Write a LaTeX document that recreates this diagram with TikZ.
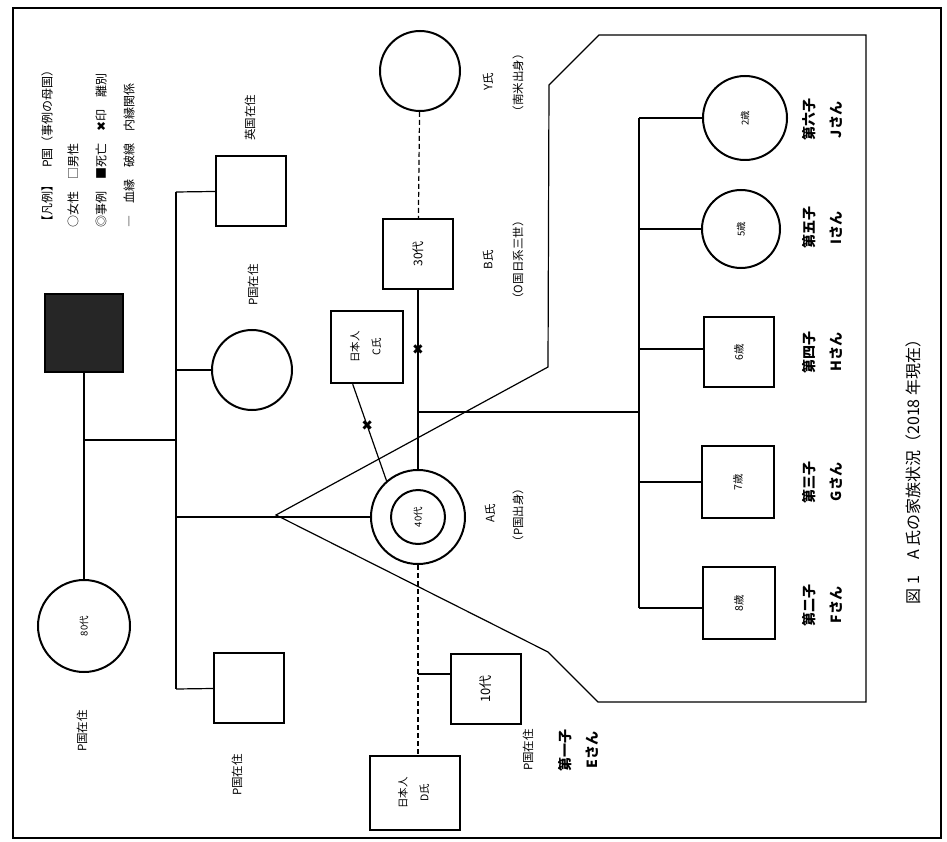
\documentclass[tikz,border=0pt]{standalone}
\usepackage{fontspec}
\setmainfont{Noto Sans CJK JP}
\newfontfamily\symfont{DejaVu Sans}
\newcommand{\vtxt}[1]{\rotatebox{90}{#1}}
\newcommand{\twoline}[2]{\rotatebox{90}{\begin{tabular}{@{}c@{}}#1\\[9pt]#2\end{tabular}}}

\begin{document}
\begin{tikzpicture}[x=1pt,y=-1pt,
  male/.style={draw, line width=2.4pt, minimum size=70pt, inner sep=0pt, font=\fontsize{11}{13}\selectfont},
  female/.style={circle, draw, line width=2pt, minimum size=80pt, inner sep=0pt, font=\fontsize{9.5}{11}\selectfont},
  dead/.style={male, fill=black!85},
  tie/.style={line width=1.2pt},
  note/.style={rotate=90, inner sep=0pt, font=\fontsize{11.5}{13}\selectfont},
  child/.style={rotate=90, align=center, inner sep=0pt, font=\bfseries\fontsize{14}{27}\selectfont},
  cut/.style={font=\symfont\fontsize{14}{14}\selectfont, inner sep=0pt}]
\useasboundingbox (0,0) rectangle (947,842);
\draw[line width=2pt] (13,8) rectangle (941,838);

% legend
\node[note, anchor=west, font=\fontsize{12}{14}\selectfont] (lg1) at (47,228) {【凡例】　P国（事例の母国）};
\node[note, anchor=west, font=\fontsize{12}{14}\selectfont] (lg2) at (73,228) {○女性　□男性};
\node[note, anchor=west, font=\fontsize{12}{14}\selectfont] (lg3) at (101,228) {◎事例　■死亡　{\symfont ✖}印　離別};
\node[note, anchor=west, font=\fontsize{12}{14}\selectfont] (lg4) at (129,228) {―　血縁　破線　内縁関係};

% parents and siblings of A
\node[dead, minimum size=78pt] (fa) at (84,333) {};
\node[female, minimum size=92pt] (mo) at (84,626) {\vtxt{80代}};
\node[note] (mo-l) at (82,731) {P国在住};
\node[male] (bro1) at (251,191) {};
\node[note] (bro1-t) at (250,118) {英国在住};
\node[note] (bro1-l) at (253,285) {P国在住};
\node[female] (sis) at (252,370) {};
\node[male] (bro2) at (249,688) {};
\node[note] (bro2-l) at (237,775) {P国在住};

% A and partners
\node[female, minimum size=94pt] (A) at (418,517) {};
\node[female, minimum size=54pt] (A-in) at (A) {\vtxt{40代}};
\node[note] (A-l1) at (490,513) {A氏};
\node[note] (A-l2) at (518,515) {（P国出身）};
\node[male, font=\fontsize{12}{14}\selectfont] (B) at (418,254) {\vtxt{30代}};
\node[note] (B-l1) at (488,260) {B氏};
\node[note] (B-l2) at (518,260) {（O国日系三世）};
\node[female] (Y) at (420,71) {};
\node[note] (Y-l1) at (488,82) {Y氏};
\node[note] (Y-l2) at (518,83) {（南米出身）};
\node[male, minimum size=72pt, font=\fontsize{10.5}{12}\selectfont] (C) at (367,347) {\twoline{日本人}{C氏}};
\node[male, minimum width=90pt, minimum height=74pt, font=\fontsize{10.5}{12}\selectfont] (D) at (415,793) {\twoline{日本人}{D氏}};
\node[male, font=\fontsize{13}{15}\selectfont] (E) at (486,689) {\vtxt{10代}};
\node[note] (E-l) at (528,750) {P国在住};
\node[child] (E-c) at (578,750) {第一子\\Eさん};

% children with B
\node[female, minimum size=84pt] (J) at (745,118) {\vtxt{2歳}};
\node[female, minimum size=78pt] (I) at (741,229) {\vtxt{5歳}};
\node[male, font=\fontsize{10.5}{12}\selectfont] (H) at (739,352) {\vtxt{6歳}};
\node[male, minimum size=72pt, font=\fontsize{10.5}{12}\selectfont] (G) at (738,482) {\vtxt{7歳}};
\node[male, minimum size=72pt, font=\fontsize{10.5}{12}\selectfont] (F) at (739,603) {\vtxt{8歳}};
\node[child] (J-c) at (822,120) {第六子\\Jさん};
\node[child] (I-c) at (822,228) {第五子\\Iさん};
\node[child] (H-c) at (822,352) {第四子\\Hさん};
\node[child] (G-c) at (822,482) {第三子\\Gさん};
\node[child] (F-c) at (822,605) {第二子\\Fさん};

% connectors
\coordinate (pm) at (84,440);
\coordinate (s1) at (176,192);
\coordinate (s4) at (176,689);
\draw[tie] (fa) -- (mo);
\draw[tie] (pm) -- (pm -| s1);
\draw[tie] (s1) -- (s4);
\draw[tie] (s1) -- (bro1);
\draw[tie] (s1 |- sis) -- (sis);
\draw[tie] (s1 |- A) -- (A);
\draw[tie] (s4) -- (bro2);

\draw[tie, dashed, dash pattern=on 5pt off 3pt] (Y) -- (B);
\draw[line width=2pt] (B) -- (A) node[cut, pos=0.33] {✖};
\draw[tie] (C.-111) -- (A.131) node[cut, pos=0.43] {✖};
\draw[tie, dashed, dash pattern=on 5pt off 3pt] (A) -- (A |- D.north);
\coordinate (eb) at (418,674);
\draw[tie] (eb) -- (eb -| E.west);

\coordinate (ch) at (418,412);
\coordinate (k1) at (639,118);
\coordinate (k6) at (639,608);
\draw[tie] (ch) -- (ch -| k1);
\draw[tie] (k1) -- (k6);
\draw[tie] (k1) -- (J);
\draw[tie] (k1 |- I) -- (I);
\draw[tie] (k1 |- 0,349) -- (H.west |- 0,349);
\draw[tie] (k1 |- G) -- (G);
\draw[tie] (k6) -- (F.west |- k6);

% enclosure of A and her children
\draw[tie] (276,515) -- (548,652) -- (598,702) -- (866,702) -- (866,35)
  -- (599,35) -- (549,85) -- (548,367) -- cycle;

% caption
\node[rotate=90, font=\fontsize{16}{18}\selectfont] (cap) at (913,468) {図 1　A 氏の家族状況（2018 年現在）};
\end{tikzpicture}
\end{document}
